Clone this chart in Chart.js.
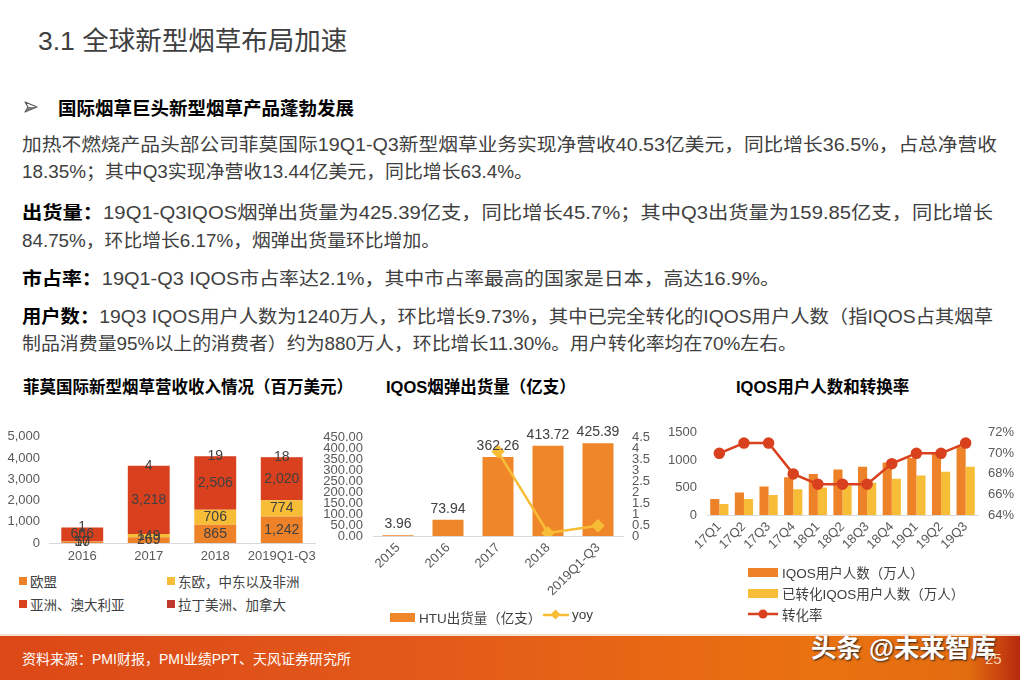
<!DOCTYPE html>
<html>
<head>
<meta charset="utf-8">
<script src="https://cdn.jsdelivr.net/npm/chart.js@4.4.1/dist/chart.umd.min.js"></script>
<style>
  body { margin: 0; width: 1020px; height: 680px; background: #fff; position: relative; overflow: hidden;
         font-family: "Liberation Sans", "Noto Sans CJK SC", sans-serif; color: #333; }
  .abs { position: absolute; white-space: nowrap; }
  .title { left: 38px; top: 19px; font-size: 26.5px; color: #404040; }
  .bullet { left: 24px; top: 101px; }
  .btext { left: 58px; top: 94px; font-size: 18.5px; color: #000; font-weight: bold; }
  .para { left: 22px; font-size: 18.5px; color: #404040; transform-origin: left center; }
  .para b { color: #000; }
  .ctitle { top: 374px; font-size: 16.5px; font-weight: bold; color: #000; }
  .box { position: absolute; }
  .lg { position: absolute; font-size: 13.5px; color: #404040; white-space: nowrap; display: flex; align-items: center; }
  .sq { display: inline-block; width: 8px; height: 8px; margin-right: 3px; }
  .rect { display: inline-block; width: 26px; height: 9px; margin-right: 4px; }
  .footer { position: absolute; left: 0; top: 634px; width: 1020px; height: 46px;
            background: linear-gradient(90deg, #dc4816 0%, #e2581a 40%, #ea7210 80%, #e26c10 95%, #b82a10 100%);
            border-top: 2px solid #f6e0d0; }
  .src { left: 22px; top: 648px; font-size: 14px; color: #fff; }
  .wm { left: 811px; top: 627px; font-size: 25.5px; font-weight: bold; color: #fff; text-shadow: 1px 1px 2px #222; }
  .pg { left: 985px; top: 650px; font-size: 15px; color: #f7d0b0; }
</style>
</head>
<body>
<div class="abs title">3.1 全球新型烟草布局加速</div>
<svg class="abs bullet" width="14" height="12" viewBox="0 0 14 12"><path d="M1 1 L13 6 L1 11 L4 6 Z" fill="#fff" stroke="#555" stroke-width="1.2" stroke-linejoin="round"/><path d="M4 6 L13 6 L1 11 Z" fill="#777"/></svg>
<div class="abs btext">国际烟草巨头新型烟草产品蓬勃发展</div>
<div class="abs para" data-end="997" style="top:130px">加热不燃烧产品头部公司菲莫国际19Q1-Q3新型烟草业务实现净营收40.53亿美元，同比增长36.5%，占总净营收</div>
<div class="abs para" data-end="533" style="top:157px">18.35%；其中Q3实现净营收13.44亿美元，同比增长63.4%。</div>
<div class="abs para" data-end="993" style="top:198px"><b>出货量：</b>19Q1-Q3IQOS烟弹出货量为425.39亿支，同比增长45.7%；其中Q3出货量为159.85亿支，同比增长</div>
<div class="abs para" data-end="440" style="top:226px">84.75%，环比增长6.17%，烟弹出货量环比增加。</div>
<div class="abs para" data-end="780" style="top:264px"><b>市占率：</b>19Q1-Q3 IQOS市占率达2.1%，其中市占率最高的国家是日本，高达16.9%。</div>
<div class="abs para" data-end="993" style="top:302px"><b>用户数：</b>19Q3 IQOS用户人数为1240万人，环比增长9.73%，其中已完全转化的IQOS用户人数（指IQOS占其烟草</div>
<div class="abs para" data-end="797" style="top:329px">制品消费量95%以上的消费者）约为880万人，环比增长11.30%。用户转化率均在70%左右。</div>

<div class="abs ctitle" style="left:23px">菲莫国际新型烟草营收收入情况（百万美元）</div>
<div class="abs ctitle" style="left:386px">IQOS烟弹出货量（亿支）</div>
<div class="abs ctitle" style="left:736px">IQOS用户人数和转换率</div>

<div class="box" style="left:0;top:420px;width:325px;height:150px"><canvas id="c1"></canvas></div>
<div class="box" style="left:320px;top:420px;width:330px;height:200px"><canvas id="c2"></canvas></div>
<div class="box" style="left:660px;top:415px;width:360px;height:150px"><canvas id="c3"></canvas></div>

<div class="footer"></div>
<div class="abs src">资料来源：PMI财报，PMI业绩PPT、天风证券研究所</div>
<div class="abs wm">头条 @未来智库</div>
<div class="abs pg">25</div>

<script>
// chart 1: revenue by region (USD mn)
const years1 = ['2016', '2017', '2018', '2019Q1-Q3'];
const euRev = [57, 269, 865, 1242];
const eemaRev = [10, 149, 706, 774];
const asiaRev = [666, 3218, 2506, 2020];
const latamRev = [1, 4, 19, 18];
const regionNames = ['欧盟', '东欧，中东以及非洲', '亚洲、澳大利亚', '拉丁美洲、加拿大'];
const rev1Ticks = [0, 1000, 2000, 3000, 4000, 5000];

// chart 2: HTU shipments
const years2 = ['2015', '2016', '2017', '2018', '2019Q1-Q3'];
const htuShip = [3.96, 73.94, 362.26, 413.72, 425.39];
const htuYoy = [null, null, 3.87, 0.14, 0.47];

// chart 3: IQOS users
const quarters = ['17Q1', '17Q2', '17Q3', '17Q4', '18Q1', '18Q2', '18Q3', '18Q4', '19Q1', '19Q2', '19Q3'];
const iqosUsers = [290, 410, 520, 690, 750, 830, 880, 960, 1040, 1130, 1240];
const convUsers = [200, 290, 365, 470, 500, 540, 590, 660, 720, 790, 880];
const convRate = [70, 71, 71, 68, 67, 67, 67, 69, 70, 70, 71];

const ORANGE = '#ee8229';
const YELLOW = '#f8bd36';
const RED = '#d9411e';
const DARKRED = '#c0392b';
const TICK = '#595959';
const FONT = '"Liberation Sans", "Noto Sans CJK SC", sans-serif';

Chart.defaults.font.family = FONT;
Chart.defaults.font.size = 13;
Chart.defaults.color = TICK;
Chart.defaults.animation = false;
Chart.defaults.plugins.legend.display = false;
Chart.defaults.plugins.tooltip.enabled = false;

// stretch paragraph lines to the widths seen on the slide
document.querySelectorAll('.para').forEach(el => {
    const w = el.getBoundingClientRect().width;
    const target = +el.dataset.end - 22;
    el.style.transform = 'scaleX(' + (target / w).toFixed(4) + ')';
});

// draws value labels; mode 'center' for stacked segments, 'top' above bars
const valueLabels = {
    id: 'valueLabels',
    afterDatasetsDraw(chart, args, opts) {
        const ctx = chart.ctx;
        ctx.save();
        ctx.font = '14px ' + FONT;
        ctx.fillStyle = '#404040';
        ctx.textAlign = 'center';
        chart.data.datasets.forEach((ds, i) => {
            if (ds.type === 'line') return;
            const meta = chart.getDatasetMeta(i);
            meta.data.forEach((el, j) => {
                const v = ds.data[j];
                if (v == null) return;
                const txt = opts.fmt ? opts.fmt(v) : v;
                if (opts.mode === 'center') {
                    ctx.textBaseline = 'middle';
                    ctx.fillText(txt, el.x, (el.y + el.base) / 2);
                } else {
                    ctx.textBaseline = 'bottom';
                    ctx.fillText(txt, el.x, el.y - 4);
                }
            });
        });
        ctx.restore();
    }
};

const axisLine = { display: true, color: '#d9d9d9', width: 1 };
const noGrid = { display: false, drawTicks: false };

new Chart(document.getElementById('c1'), {
    type: 'bar',
    data: {
        labels: years1,
        datasets: [
            { label: regionNames[0], data: euRev, backgroundColor: ORANGE },
            { label: regionNames[1], data: eemaRev, backgroundColor: YELLOW },
            { label: regionNames[2], data: asiaRev, backgroundColor: RED },
            { label: regionNames[3], data: latamRev, backgroundColor: DARKRED }
        ]
    },
    options: {
        responsive: true,
        maintainAspectRatio: false,
        layout: { padding: { top: 12, right: 10, left: 0, bottom: 0 } },
        datasets: { bar: { categoryPercentage: 0.63, barPercentage: 1 } },
        scales: {
            x: {
                stacked: true,
                grid: noGrid,
                border: axisLine,
                ticks: { padding: 6, minRotation: 0, maxRotation: 0, autoSkip: false },
                afterFit: s => { s.height = 27; }
            },
            y: {
                stacked: true,
                min: 0, max: 5000,
                grid: noGrid,
                border: { display: false },
                afterBuildTicks: s => { s.ticks = rev1Ticks.map(v => ({ value: v })); },
                ticks: { padding: 9, autoSkip: false, callback: v => v.toLocaleString('en-US') },
                afterFit: s => { s.width = 49; }
            }
        },
        plugins: { valueLabels: { mode: 'center', fmt: v => v.toLocaleString('en-US') } }
    },
    plugins: [valueLabels]
});

new Chart(document.getElementById('c2'), {
    data: {
        labels: years2,
        datasets: [
            { type: 'line', label: 'yoy', data: htuYoy, yAxisID: 'y2', borderColor: YELLOW, backgroundColor: YELLOW,
              borderWidth: 2.5, pointStyle: 'rectRot', pointRadius: 5, spanGaps: false, order: 0 },
            { type: 'bar', label: 'HTU出货量（亿支）', data: htuShip, yAxisID: 'y', backgroundColor: '#f0862a',
              categoryPercentage: 0.62, barPercentage: 1, order: 1 }
        ]
    },
    options: {
        responsive: true,
        maintainAspectRatio: false,
        layout: { padding: { top: 12, right: 0, left: 0, bottom: 0 } },
        scales: {
            x: {
                grid: noGrid,
                border: axisLine,
                ticks: { padding: 4, minRotation: 45, maxRotation: 45, autoSkip: false },
                afterFit: s => { s.height = 84; }
            },
            y: {
                position: 'left', min: 0, max: 450,
                grid: noGrid,
                border: { display: false },
                ticks: { stepSize: 50, padding: 10, autoSkip: false, callback: v => v.toFixed(2) },
                afterFit: s => { s.width = 53; }
            },
            y2: {
                position: 'right', min: 0, max: 4.5,
                grid: noGrid,
                border: { display: false },
                ticks: { stepSize: 0.5, padding: 9, autoSkip: false, callback: v => String(v) },
                afterFit: s => { s.width = 27; }
            }
        },
        plugins: { valueLabels: { mode: 'top' } }
    },
    plugins: [valueLabels]
});

new Chart(document.getElementById('c3'), {
    data: {
        labels: quarters,
        datasets: [
            { type: 'line', label: '转化率', data: convRate, yAxisID: 'y2', borderColor: RED, backgroundColor: RED,
              borderWidth: 2.5, pointRadius: 4.5, order: 0 },
            { type: 'bar', label: 'IQOS用户人数（万人）', data: iqosUsers, backgroundColor: ORANGE,
              categoryPercentage: 0.74, barPercentage: 1, order: 1 },
            { type: 'bar', label: '已转化IQOS用户人数（万人）', data: convUsers, backgroundColor: YELLOW,
              categoryPercentage: 0.74, barPercentage: 1, order: 1 }
        ]
    },
    options: {
        responsive: true,
        maintainAspectRatio: false,
        layout: { padding: { top: 12, right: 0, left: 0, bottom: 0 } },
        scales: {
            x: {
                grid: noGrid,
                border: axisLine,
                ticks: { padding: 4, minRotation: 45, maxRotation: 45, autoSkip: false },
                afterFit: s => { s.height = 50; }
            },
            y: {
                position: 'left', min: 0, max: 1500,
                grid: noGrid,
                border: { display: false },
                ticks: { stepSize: 500, padding: 10, autoSkip: false, callback: v => String(v) },
                afterFit: s => { s.width = 47; }
            },
            y2: {
                position: 'right', min: 64, max: 72,
                grid: noGrid,
                border: { display: false },
                ticks: { stepSize: 2, padding: 10, autoSkip: false, callback: v => v + '%' },
                afterFit: s => { s.width = 42; }
            }
        }
    }
});

// html legends
function legendItem(left, top, swatch, text) {
    const d = document.createElement('div');
    d.className = 'lg';
    d.style.left = left + 'px';
    d.style.top = top + 'px';
    d.innerHTML = swatch + '<span>' + text + '</span>';
    document.body.appendChild(d);
}
const lgColors1 = [ORANGE, YELLOW, RED, DARKRED];
regionNames.forEach((n, i) => {
    legendItem(i % 2 ? 167 : 19, i < 2 ? 571 : 594, '<span class="sq" style="background:' + lgColors1[i] + '"></span>', n);
});
legendItem(390, 607, '<span class="rect" style="width:25px;background:#f0862a"></span>', 'HTU出货量（亿支）');
legendItem(543, 607, '<svg width="26" height="12" style="margin-right:3px"><line x1="0" y1="6" x2="26" y2="6" stroke="' + YELLOW + '" stroke-width="2.5"/><rect x="9" y="2" width="7" height="7" fill="' + YELLOW + '" transform="rotate(45 12.5 5.5)"/></svg>', 'yoy');
legendItem(748, 562, '<span class="rect" style="width:30px;background:' + ORANGE + '"></span>', 'IQOS用户人数（万人）');
legendItem(748, 583, '<span class="rect" style="width:30px;background:' + YELLOW + '"></span>', '已转化IQOS用户人数（万人）');
legendItem(748, 604, '<svg width="30" height="12" style="margin-right:4px"><line x1="0" y1="6" x2="30" y2="6" stroke="' + RED + '" stroke-width="2.5"/><circle cx="15" cy="6" r="4.5" fill="' + RED + '"/></svg>', '转化率');
</script>
</body>
</html>
